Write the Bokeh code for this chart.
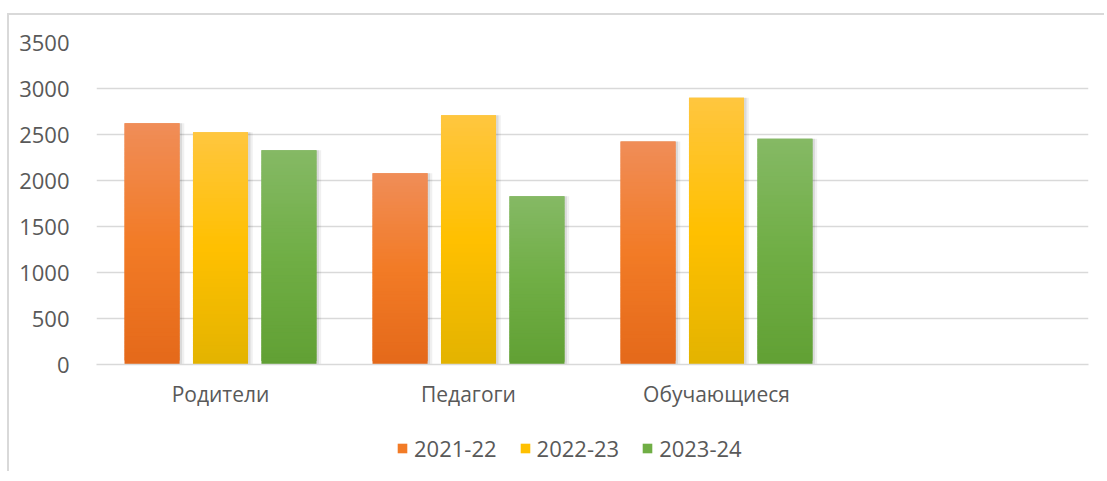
from bokeh.plotting import figure
from bokeh.layouts import column
from bokeh.models import (ColumnDataSource, FactorRange, Range1d, FixedTicker,
                          Legend, LegendItem)
from bokeh.transform import dodge
from bokeh.embed import file_html
from bokeh.resources import INLINE

# ---- data ----
categories = ["Родители", "Педагоги", "Обучающиеся", " "]
series = ["2021-22", "2022-23", "2023-24"]
v_2021_22 = [2622, 2080, 2425]
v_2022_23 = [2524, 2710, 2900]
v_2023_24 = [2330, 1830, 2455]
y_ticks = [0, 500, 1000, 1500, 2000, 2500, 3000, 3500]

values = [v_2021_22, v_2022_23, v_2023_24]
# gradient stops: top (light), middle (base), bottom (dark)
grad = [
    ("#F08D58", "#F27B26", "#E4691A"),
    ("#FFC63F", "#FFC000", "#E3B300"),
    ("#85B965", "#70AE45", "#61A034"),
]
base_colors = ["#F27B26", "#FFC000", "#70AE45"]
offsets = [-0.276, 0.0, 0.276]
bar_w = 0.222
N = 60

FONT = "Open Sans"
TXT = "#595959"
GRID = "#D9D9D9"
W = 1095


def hex2rgb(h):
    h = h.lstrip("#")
    return tuple(int(h[i:i + 2], 16) for i in (0, 2, 4))


def lerp(c1, c2, t):
    a, b = hex2rgb(c1), hex2rgb(c2)
    return "#%02x%02x%02x" % tuple(int(round(a[k] + (b[k] - a[k]) * t)) for k in range(3))


def grad_color(stops, t):  # t=0 bottom, t=1 top
    top, mid, bot = stops
    if t < 0.5:
        return lerp(bot, mid, t / 0.5)
    return lerp(mid, top, (t - 0.5) / 0.5)


p = figure(width=W, height=399, output_backend="svg", toolbar_location=None,
           x_range=FactorRange(factors=categories), y_range=Range1d(0, 3500),
           min_border_left=87, min_border_right=16, min_border_top=27,
           min_border_bottom=50)
p.outline_line_color = None
p.background_fill_color = "white"
p.border_fill_color = "white"

p.xgrid.grid_line_color = None
p.ygrid.grid_line_color = GRID
p.ygrid.grid_line_width = 1.6

p.yaxis.ticker = FixedTicker(ticks=y_ticks)
p.yaxis.axis_line_color = None
p.yaxis.major_tick_line_color = None
p.yaxis.minor_tick_line_color = None
p.yaxis.major_label_standoff = 21
p.yaxis.major_label_text_font = FONT
p.yaxis.major_label_text_font_size = "22px"
p.yaxis.major_label_text_color = TXT

p.xaxis.axis_line_color = GRID
p.xaxis.axis_line_width = 1.6
p.xaxis.major_tick_line_color = None
p.xaxis.minor_tick_line_color = None
p.xaxis.major_label_standoff = 9
p.xaxis.major_label_text_font = FONT
p.xaxis.major_label_text_font_size = "21px"
p.xaxis.major_label_text_color = TXT

# legend strip (separate frame below the chart; frames are aligned in the column)
pl = figure(width=W, height=57, output_backend="svg", toolbar_location=None,
            x_range=Range1d(0, 1), y_range=Range1d(0, 1),
            x_axis_location=None, y_axis_location=None,
            min_border_left=0, min_border_right=0, min_border_top=0,
            min_border_bottom=0)
pl.outline_line_color = None
pl.xgrid.grid_line_color = None
pl.ygrid.grid_line_color = None
pl.background_fill_color = "white"
pl.border_fill_color = "white"

legend_items = []
for s_idx, (name, vals) in enumerate(zip(series, values)):
    cats = categories[:len(vals)]
    # soft shadow
    sh = ColumnDataSource(dict(x=cats, top=vals))
    p.vbar(x=dodge("x", offsets[s_idx] + 0.012, range=p.x_range), top="top", bottom=0,
           width=bar_w + 0.014, source=sh, fill_color="#000000", fill_alpha=0.06,
           line_color=None)
    p.vbar(x=dodge("x", offsets[s_idx] + 0.007, range=p.x_range), top="top", bottom=0,
           width=bar_w + 0.006, source=sh, fill_color="#000000", fill_alpha=0.09,
           line_color=None)
    # gradient slices (each overlaps the next one to avoid seams)
    xs, bots, tops, cols = [], [], [], []
    for c, v in zip(cats, vals):
        for i in range(N):
            xs.append(c)
            bots.append(v * i / N)
            tops.append(v * min(i + 2, N) / N)
            cols.append(grad_color(grad[s_idx], (i + 0.5) / N))
    src = ColumnDataSource(dict(x=xs, bottom=bots, top=tops, color=cols))
    p.vbar(x=dodge("x", offsets[s_idx], range=p.x_range), top="top", bottom="bottom",
           width=bar_w, source=src, fill_color="color", line_color=None)
    # legend proxy glyph (a box placed outside the visible range)
    r = pl.quad(left=[-5], right=[-4], bottom=[-5], top=[-4],
                fill_color=base_colors[s_idx], line_color=None)
    legend_items.append(LegendItem(label=name, renderers=[r]))

legend = Legend(items=legend_items, orientation="horizontal", location=(300, 8),
                glyph_width=12, glyph_height=12, label_standoff=6, spacing=22,
                padding=0, margin=0, border_line_color=None,
                background_fill_alpha=0,
                label_text_font=FONT, label_text_font_size="22px",
                label_text_color=TXT)
pl.add_layout(legend, "center")

layout = column(p, pl, spacing=0)
layout.styles = {"border-top": "2px solid #D9D9D9", "border-left": "2px solid #D9D9D9",
                 "margin-top": "13px", "margin-left": "7px"}

open("out.html", "w").write(file_html(layout, INLINE))
